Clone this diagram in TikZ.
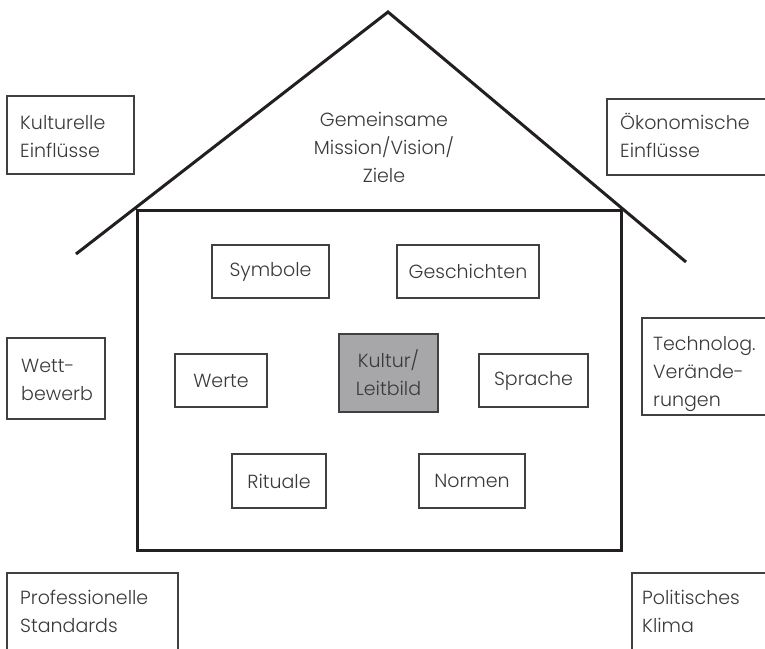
\documentclass[tikz,border=0pt]{standalone}
\usepackage{fontspec}
\setmainfont{Poppins}[UprightFont=* Light]
\definecolor{ink}{HTML}{231F20}
\definecolor{boxc}{HTML}{404040}
\definecolor{txtc}{HTML}{3A3A3A}
\definecolor{kulfill}{HTML}{A7A7AA}
\newcommand\fsz{\fontsize{19}{28}\selectfont}
\newcommand\topstrut{\rule{0pt}{16pt}}
\begin{document}
\begin{tikzpicture}[x=1pt,y=-1pt,
  heavy/.style={draw=ink, line width=3pt},
  framebox/.style={draw=boxc, line width=1.1pt, inner sep=0pt, outer sep=0pt},
  inbox/.style={framebox, font=\fsz, text=txtc, align=center},
  sidetext/.style={font=\fsz, text=txtc, align=left, inner sep=0pt, anchor=north west}]
\useasboundingbox (0,0) rectangle (765,648);
\fill[white] (0,0) rectangle (765,648);
% roof
\coordinate (roofL) at (76,254);
\coordinate (apex) at (388,12);
\coordinate (roofR) at (686,262);
\draw[heavy, line join=miter] (roofL) -- (apex) -- (roofR);
% house body
\node[heavy, minimum width=484pt, minimum height=340pt, inner sep=0pt] (house) at (379,380) {};
% roof text
\node[font=\fsz, text=txtc, align=center, inner sep=0pt, anchor=north] (mission) at (384,110) {\topstrut Gemeinsame\\Mission/Vision/\\Ziele};
% inner boxes
\node[inbox, minimum width=117pt, minimum height=53pt] (sym) at (270.5,271.5) {Symbole};
\node[inbox, minimum width=142pt, minimum height=53pt] (gesch) at (468,271.5) {Geschichten};
\node[inbox, minimum width=92pt, minimum height=53pt] (werte) at (221,380.5) {Werte};
\node[inbox, fill=kulfill, minimum width=99pt, minimum height=78pt] (kultur) at (388.5,373) {Kultur/\\Leitbild};
\node[inbox, minimum width=109pt, minimum height=53pt] (sprache) at (533.5,380.5) {Sprache};
\node[inbox, minimum width=94pt, minimum height=54pt] (rit) at (279,481) {Rituale};
\node[inbox, minimum width=106pt, minimum height=54pt] (normen) at (472,481) {Normen};
% outer boxes
\node[framebox, minimum width=127pt, minimum height=78pt] (kulB) at (70.5,135) {};
\node[sidetext] (kulT) at (20,113) {\topstrut Kulturelle\\Einflüsse};
\node[framebox, minimum width=160pt, minimum height=76pt] (oekB) at (687,137) {};
\node[sidetext] (oekT) at (620,113) {\topstrut Ökonomische\\Einflüsse};
\node[framebox, minimum width=98pt, minimum height=81pt] (wettB) at (56,378.5) {};
\node[sidetext] (wettT) at (21,356) {\topstrut Wett-\\bewerb};
\node[framebox, minimum width=126pt, minimum height=97pt] (techB) at (705,366.5) {};
\node[sidetext] (techT) at (653,334) {\topstrut Technolog.\\Verände-\\rungen};
\node[framebox, minimum width=171pt, minimum height=79pt] (profB) at (92.5,612.5) {};
\node[sidetext] (profT) at (20,588) {\topstrut Professionelle\\Standards};
\node[framebox, minimum width=136pt, minimum height=79pt] (polB) at (700,612.5) {};
\node[sidetext] (polT) at (642,588) {\topstrut Politisches\\Klima};
\end{tikzpicture}
\end{document}
